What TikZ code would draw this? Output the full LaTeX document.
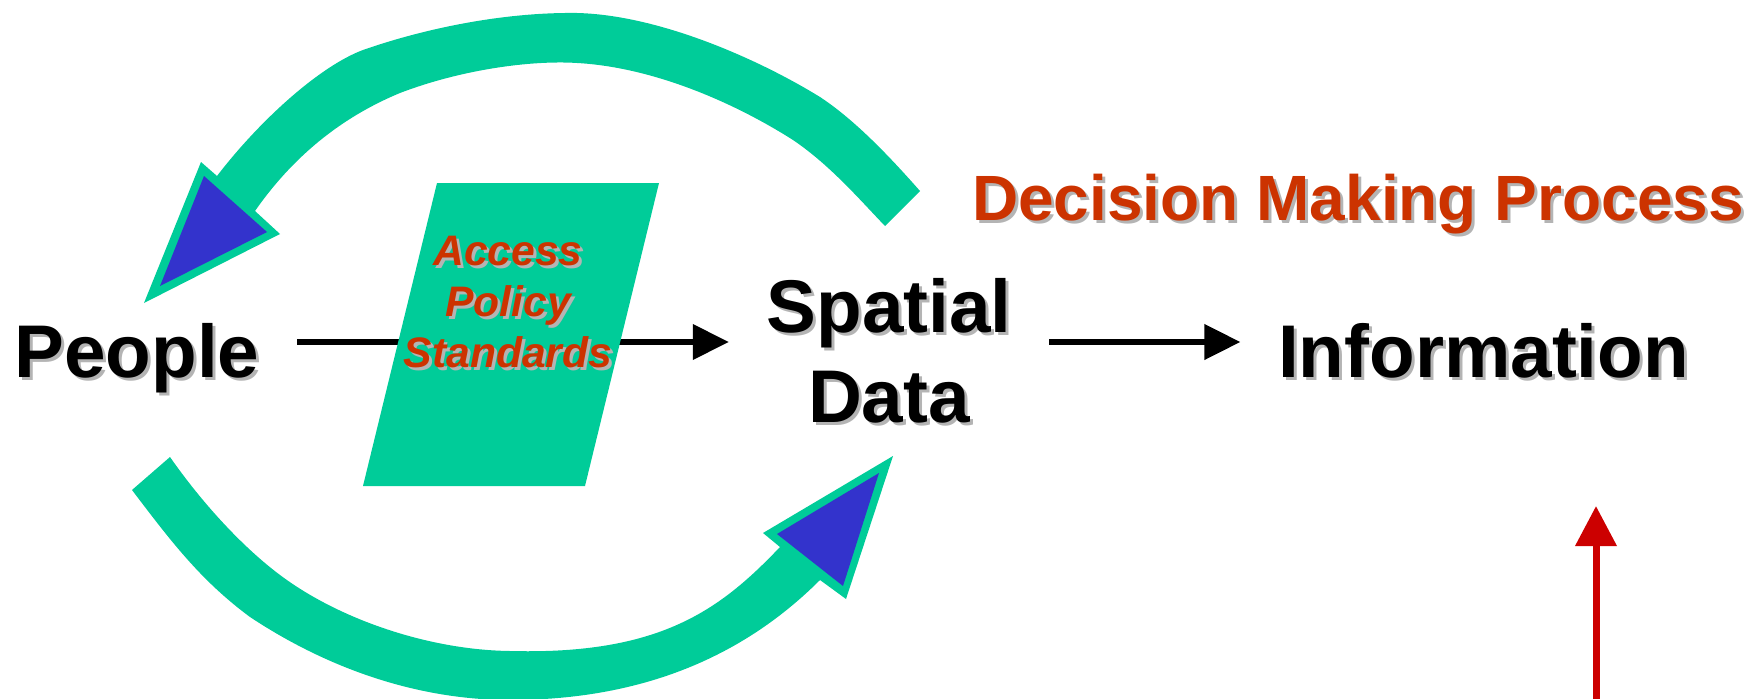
\documentclass[tikz,border=0pt]{standalone}
\usepackage{fontspec}
\setmainfont{Liberation Sans}
\usetikzlibrary{arrows.meta}

\definecolor{bandgreen}{RGB}{0,204,153}
\definecolor{headblue}{RGB}{51,51,204}
\definecolor{textred}{RGB}{204,51,0}
\definecolor{arrowred}{RGB}{204,0,0}
\definecolor{shadowgray}{RGB}{180,180,180}

\tikzset{every picture/.style={line width=0.75pt}}
\tikzset{
  bigtext/.style={inner sep=0pt, align=center, font=\bfseries\fontsize{56}{67.5}\selectfont},
  titletext/.style={inner sep=0pt, text=textred, font=\bfseries\fontsize{48}{56}\selectfont},
  policytext/.style={inner sep=0pt, align=center, text=textred, font=\bfseries\itshape\fontsize{32}{38.25}\selectfont},
  flowarrow/.style={line width=4pt, -{Triangle[length=27pt,width=26pt]}, shorten <=28pt, shorten >=28pt},
  band/.style={fill=bandgreen, draw=none},
  bandhead/.style={fill=headblue, draw=none}
}

% text with a grey drop shadow: name, position, options, text
\newcommand{\shadowtext}[4]{%
  \draw ([shift={(3,3)}]#2) node (#1-sh) [#3, text=shadowgray] {#4};
  \draw (#2) node (#1) [#3] {#4};
}

\begin{document}
\begin{tikzpicture}[x=0.75pt,y=0.75pt,yscale=-1,xscale=1]
\useasboundingbox (0,0) rectangle (1764,699);

%Shape: top curved arrow, Spatial Data back to People
\fill [band] (920,191) .. controls (890,157) and (855,120) .. (820,97) .. controls (760,60) and (660,15) .. (577,13) .. controls (500,12) and (420,30) .. (363,50) .. controls (320,66) and (260,120) .. (217,176)
  -- (201,162) -- (144,303) -- (280,234) -- (255,211)
  .. controls (285,168) and (330,122) .. (400,93) .. controls (460,70) and (530,60) .. (577,63) .. controls (650,67) and (730,100) .. (793,140) .. controls (830,165) and (860,200) .. (885,226)
  -- cycle ;
\fill [bandhead] (204,176) -- (160,286) -- (267,232) -- cycle ;

%Shape: bottom curved arrow, People to Spatial Data
\fill [band] (132,490) .. controls (170,540) and (200,580) .. (250,617) .. controls (330,670) and (420,700) .. (510,700) .. controls (620,700) and (730,670) .. (820,580)
  -- (846,599) -- (893,456) -- (763,533) -- (780,547)
  .. controls (720,610) and (660,655) .. (510,651) .. controls (430,650) and (340,620) .. (280,575) .. controls (240,545) and (200,500) .. (170,457)
  -- cycle ;
\fill [bandhead] (777,534) -- (879,473) -- (843,586) -- cycle ;

% Text Nodes
\shadowtext{people}{137,377}{bigtext, anchor=base}{People}
\shadowtext{spatial}{889,278}{bigtext, anchor=north}{Spatial\\Data}
\shadowtext{info}{1483.5,377}{bigtext, anchor=base}{Information}
\shadowtext{decision}{1358,220}{titletext, anchor=base}{Decision Making Process}

%Straight Lines: People to Spatial Data (passes behind the policy box)
\draw [flowarrow] (people.east |- 0,342) -- (spatial.west |- 0,342) ;

%Shape: Parallelogram
\fill [band] (437,183) -- (659,183) -- (585,486) -- (363,486) -- cycle ;
\shadowtext{policy}{508,236}{policytext, anchor=north}{Access\\Policy\\Standards}

%Straight Lines: Spatial Data to Information
\draw [flowarrow] (spatial.east |- 0,342) -- (info.west |- 0,342) ;

%Straight Lines: red arrow from below
\coordinate (redfoot) at (1596,702) ;
\coordinate (redtip) at (1596,506) ;
\draw [arrowred, line width=5.25pt, -{Triangle[length=30pt,width=30pt]}] (redfoot) -- (redtip) ;

\end{tikzpicture}
\end{document}
